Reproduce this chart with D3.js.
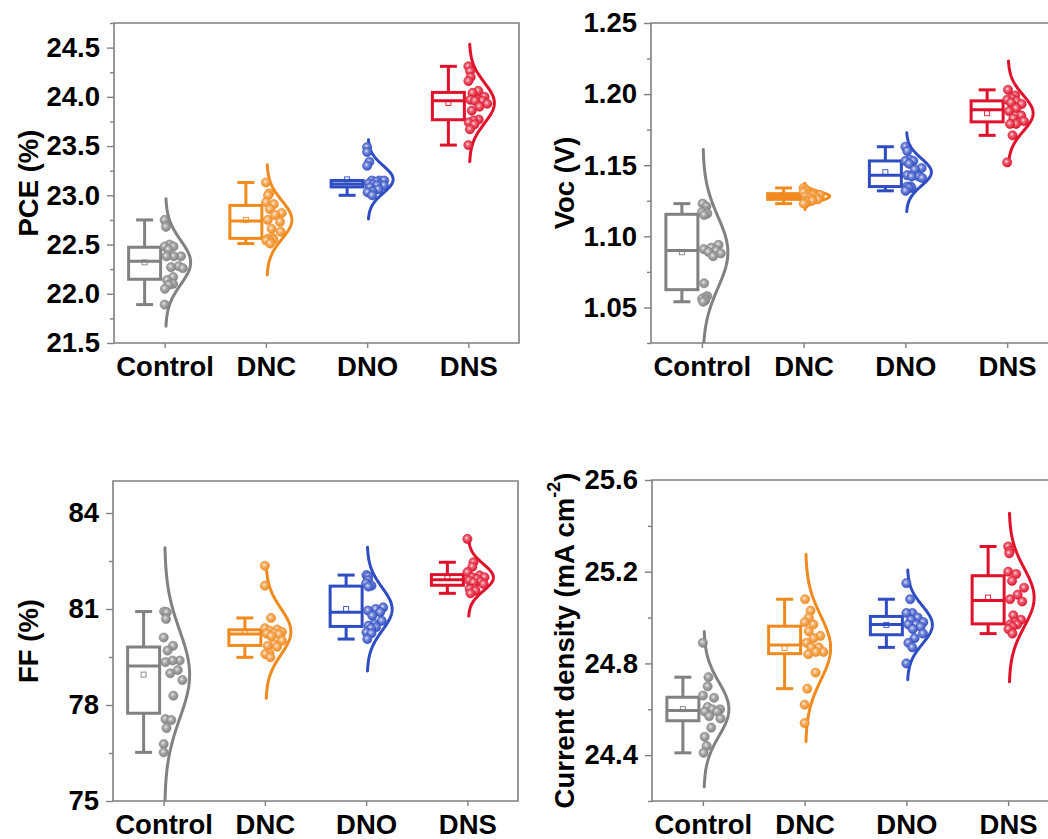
<!DOCTYPE html>
<html>
<head>
<meta charset="utf-8">
<script src="https://cdn.jsdelivr.net/npm/d3@7"></script>
<style>
  html, body { margin: 0; padding: 0; background: #fff; }
  svg { display: block; font-family: "Liberation Sans", Arial, sans-serif; }
</style>
</head>
<body>
<svg id="chart" width="1048" height="839"></svg>
<script>
// ---- categories and colours ----
const groups = ["Control", "DNC", "DNO", "DNS"];
const groupColors = ["#818181", "#F08A1E", "#2F4DC3", "#E0112B"];

// ---- PCE (%) per device ----
const pceControl = [22.75, 22.68, 22.50, 22.48, 22.48, 22.45, 22.38, 22.38, 22.38, 22.28, 22.27, 22.26, 22.17, 22.14, 22.10, 22.09, 22.05, 21.89];
const pceDNC = [23.13, 23.02, 23.00, 22.93, 22.91, 22.86, 22.82, 22.80, 22.75, 22.73, 22.66, 22.63, 22.57, 22.56, 22.55, 22.54, 22.54, 22.51];
const pceDNO = [23.49, 23.44, 23.34, 23.30, 23.15, 23.15, 23.15, 23.14, 23.12, 23.11, 23.11, 23.10, 23.10, 23.08, 23.06, 23.04, 23.03, 23.00];
const pceDNS = [24.31, 24.26, 24.20, 24.16, 24.06, 24.04, 24.00, 23.97, 23.97, 23.96, 23.96, 23.93, 23.90, 23.86, 23.77, 23.76, 23.74, 23.72, 23.67, 23.51];

// ---- Voc (V) ----
const vocControl = [1.123, 1.121, 1.118, 1.117, 1.116, 1.115, 1.094, 1.092, 1.091, 1.090, 1.089, 1.088, 1.086, 1.067, 1.058, 1.057, 1.056, 1.055, 1.054];
const vocDNC = [1.134, 1.133, 1.132, 1.131, 1.130, 1.129, 1.129, 1.129, 1.128, 1.127, 1.127, 1.126, 1.126, 1.125, 1.125, 1.124, 1.123];
const vocDNO = [1.163, 1.160, 1.154, 1.153, 1.153, 1.151, 1.148, 1.147, 1.143, 1.142, 1.142, 1.141, 1.135, 1.135, 1.134, 1.134, 1.132];
const vocDNS = [1.203, 1.199, 1.197, 1.196, 1.195, 1.194, 1.193, 1.190, 1.188, 1.185, 1.183, 1.181, 1.179, 1.179, 1.171, 1.152];

// ---- FF (%) ----
const ffControl = [80.92, 80.90, 80.69, 80.11, 79.85, 79.70, 79.39, 79.39, 79.34, 79.09, 78.99, 78.78, 78.29, 77.56, 77.53, 77.28, 76.78, 76.52];
const ffDNC = [82.35, 81.73, 80.72, 80.40, 80.36, 80.32, 80.28, 80.25, 80.23, 80.21, 80.15, 80.01, 79.90, 79.85, 79.82, 79.61, 79.59, 79.49];
const ffDNO = [82.06, 82.02, 81.90, 81.80, 81.73, 81.70, 81.05, 81.00, 80.95, 80.90, 80.79, 80.63, 80.53, 80.48, 80.43, 80.40, 80.27, 80.24, 80.06];
const ffDNS = [83.19, 82.46, 82.32, 82.15, 82.05, 81.99, 81.99, 81.94, 81.89, 81.85, 81.83, 81.78, 81.63, 81.63, 81.57, 81.49];

// ---- current density (mA cm-2) ----
const jscControl = [24.89, 24.74, 24.70, 24.66, 24.65, 24.61, 24.60, 24.60, 24.59, 24.59, 24.57, 24.56, 24.52, 24.48, 24.44, 24.41];
const jscDNC = [25.08, 25.03, 25.00, 24.98, 24.97, 24.94, 24.92, 24.91, 24.89, 24.87, 24.87, 24.85, 24.85, 24.84, 24.76, 24.69, 24.62, 24.54];
const jscDNO = [25.15, 25.08, 25.02, 25.02, 25.00, 24.99, 24.98, 24.97, 24.97, 24.96, 24.95, 24.93, 24.91, 24.89, 24.87, 24.80];
const jscDNS = [25.31, 25.29, 25.28, 25.20, 25.19, 25.16, 25.13, 25.10, 25.08, 25.07, 25.01, 24.99, 24.98, 24.97, 24.97, 24.96, 24.95, 24.93];

// ---- axis tick labels ----
const pceTicks = [21.5, 22.0, 22.5, 23.0, 23.5, 24.0, 24.5];
const vocTicks = [1.05, 1.10, 1.15, 1.20, 1.25];
const ffTicks = [75, 78, 81, 84];
const jscTicks = [24.4, 24.8, 25.2, 25.6];

// ---- panel layout ----
const panels = [
  { data: [pceControl, pceDNC, pceDNO, pceDNS], ticks: pceTicks, domain: [21.5, 24.75], fmt: ".1f",
    left: 114, right: 519, top: 23, bottom: 343, titleX: 27.5, title: ["PCE (%)"] },
  { data: [vocControl, vocDNC, vocDNO, vocDNS], ticks: vocTicks, domain: [1.025, 1.25], fmt: ".2f",
    left: 651, right: 1058, top: 23, bottom: 343, titleX: 564, title: ["Voc (V)"] },
  { data: [ffControl, ffDNC, ffDNO, ffDNS], ticks: ffTicks, domain: [75, 85], fmt: "d",
    left: 113, right: 518, top: 481, bottom: 801, titleX: 27.5, title: ["FF (%)"] },
  { data: [jscControl, jscDNC, jscDNO, jscDNS], ticks: jscTicks, domain: [24.2, 25.6], fmt: ".1f",
    left: 652, right: 1059, top: 480, bottom: 801, titleX: 564, title: ["Current density (mA cm", "-2", ")"] }
];

const AXIS_COLOR = "#808080";
const FONT = "'Liberation Sans', Arial, sans-serif";
const FONT_SIZE = 27.5;
const svg = d3.select("#chart");
const defs = svg.append("defs");

// shaded ball fill for each group colour
groupColors.forEach((c, i) => {
  const grad = defs.append("radialGradient").attr("id", "ball" + i)
    .attr("cx", "42%").attr("cy", "40%").attr("r", "62%");
  grad.append("stop").attr("offset", "0%").attr("stop-color", d3.interpolateRgb(c, "#ffffff")(0.85));
  grad.append("stop").attr("offset", "35%").attr("stop-color", d3.interpolateRgb(c, "#ffffff")(0.35));
  grad.append("stop").attr("offset", "100%").attr("stop-color", c);
});

function styleAxis(sel) {
  sel.select(".domain").remove();
  sel.selectAll(".tick line").attr("stroke", AXIS_COLOR).attr("stroke-width", 1.4);
  sel.selectAll(".tick text").attr("fill", "#000");
  sel.attr("font-family", FONT).attr("font-size", FONT_SIZE).attr("font-weight", "bold");
}

panels.forEach((p, k) => {
  const g = svg.append("g");
  const x = d3.scalePoint().domain(groups).range([p.left, p.right]).padding(0.5);
  const y = d3.scaleLinear().domain(p.domain).range([p.bottom, p.top]);

  defs.append("clipPath").attr("id", "plot" + k)
    .append("rect").attr("x", p.left).attr("y", p.top)
    .attr("width", p.right - p.left).attr("height", p.bottom - p.top);

  // minor ticks halfway between the labelled ones
  const step = p.ticks[1] - p.ticks[0];
  const minor = [p.ticks[0] - step / 2, ...p.ticks.map(v => v + step / 2)]
    .filter(v => v >= p.domain[0] - 1e-9 && v <= p.domain[1] + 1e-9);
  g.append("g").attr("transform", `translate(${p.left},0)`)
    .call(d3.axisLeft(y).tickValues(minor).tickSize(4).tickFormat(""))
    .call(styleAxis);

  g.append("g").attr("transform", `translate(${p.left},0)`)
    .call(d3.axisLeft(y).tickValues(p.ticks).tickSize(7).tickPadding(7).tickFormat(d3.format(p.fmt)))
    .call(styleAxis);

  const xa = g.append("g").attr("transform", `translate(0,${p.bottom})`)
    .call(d3.axisBottom(x).tickSize(5).tickSizeOuter(0))
    .call(styleAxis);
  xa.selectAll(".tick text").attr("y", 33).attr("dy", null);

  // plot frame
  g.append("path")
    .attr("d", `M${p.left},${p.top}V${p.bottom}H${p.right}V${p.top}Z`)
    .attr("fill", "none").attr("stroke", AXIS_COLOR).attr("stroke-width", 1.6);

  // axis title
  const t = g.append("text")
    .attr("transform", `translate(${p.titleX},${(p.top + p.bottom) / 2}) rotate(-90)`)
    .attr("text-anchor", "middle").attr("dominant-baseline", "central")
    .attr("font-family", FONT).attr("font-size", FONT_SIZE).attr("font-weight", "bold").attr("fill", "#000");
  t.append("tspan").text(p.title[0]);
  if (p.title.length > 1) {
    t.append("tspan").attr("baseline-shift", "super").attr("font-size", 18).text(p.title[1]);
    t.append("tspan").text(p.title[2]);
  }

  const marks = g.append("g").attr("clip-path", `url(#plot${k})`);

  // one box + distribution + points per group
  p.data.forEach((vals, i) => {
    const c = groupColors[i];
    const cx = x(groups[i]);
    const s = vals.slice().sort(d3.ascending);
    const q1 = d3.quantile(s, 0.25), med = d3.quantile(s, 0.5), q3 = d3.quantile(s, 0.75);
    const iqr = q3 - q1;
    const lo = d3.min(s.filter(v => v >= q1 - 1.5 * iqr));
    const hi = d3.max(s.filter(v => v <= q3 + 1.5 * iqr));
    const mean = d3.mean(vals), sd = d3.deviation(vals);

    // box plot, left of the category tick
    const bx = cx - 20, bw = 32, cap = 17;
    const box = marks.append("g").attr("stroke", c).attr("stroke-width", 3).attr("fill", "none");
    box.append("line").attr("x1", bx).attr("x2", bx).attr("y1", y(hi)).attr("y2", y(q3));
    box.append("line").attr("x1", bx).attr("x2", bx).attr("y1", y(q1)).attr("y2", y(lo));
    box.append("line").attr("x1", bx - cap / 2).attr("x2", bx + cap / 2).attr("y1", y(hi)).attr("y2", y(hi));
    box.append("line").attr("x1", bx - cap / 2).attr("x2", bx + cap / 2).attr("y1", y(lo)).attr("y2", y(lo));
    box.append("rect").attr("x", bx - bw / 2).attr("y", y(q3)).attr("width", bw)
      .attr("height", Math.max(0.1, y(q1) - y(q3))).attr("fill", "#fff");
    box.append("line").attr("x1", bx - bw / 2).attr("x2", bx + bw / 2).attr("y1", y(med)).attr("y2", y(med));
    marks.append("rect").attr("x", bx - 2.5).attr("y", y(mean) - 2.5).attr("width", 5).attr("height", 5)
      .attr("fill", "none").attr("stroke", c).attr("stroke-width", 0.9);

    // half normal curve to the right of the tick
    const base = cx + 1, peak = 25;
    const widthAt = v => peak * Math.exp(-0.5 * Math.pow((v - mean) / sd, 2));
    const zs = d3.range(-2.9, 2.9001, 0.05);
    marks.append("path")
      .datum(zs)
      .attr("d", d3.line().x(z => base + widthAt(mean + z * sd)).y(z => y(mean + z * sd)))
      .attr("fill", "none").attr("stroke", c).attr("stroke-width", 3).attr("stroke-linecap", "round");

    // data points spread inside the curve
    marks.append("g").selectAll("circle").data(vals).join("circle")
      .attr("cx", (v, j) => base - 1 + ((j * 0.6180339887 + 0.15) % 1) * Math.max(0, widthAt(v) - 5))
      .attr("cy", v => y(v))
      .attr("r", 4.6)
      .attr("fill", `url(#ball${i})`)
      .attr("stroke", c).attr("stroke-width", 0.6);
  });
});
</script>
</body>
</html>
